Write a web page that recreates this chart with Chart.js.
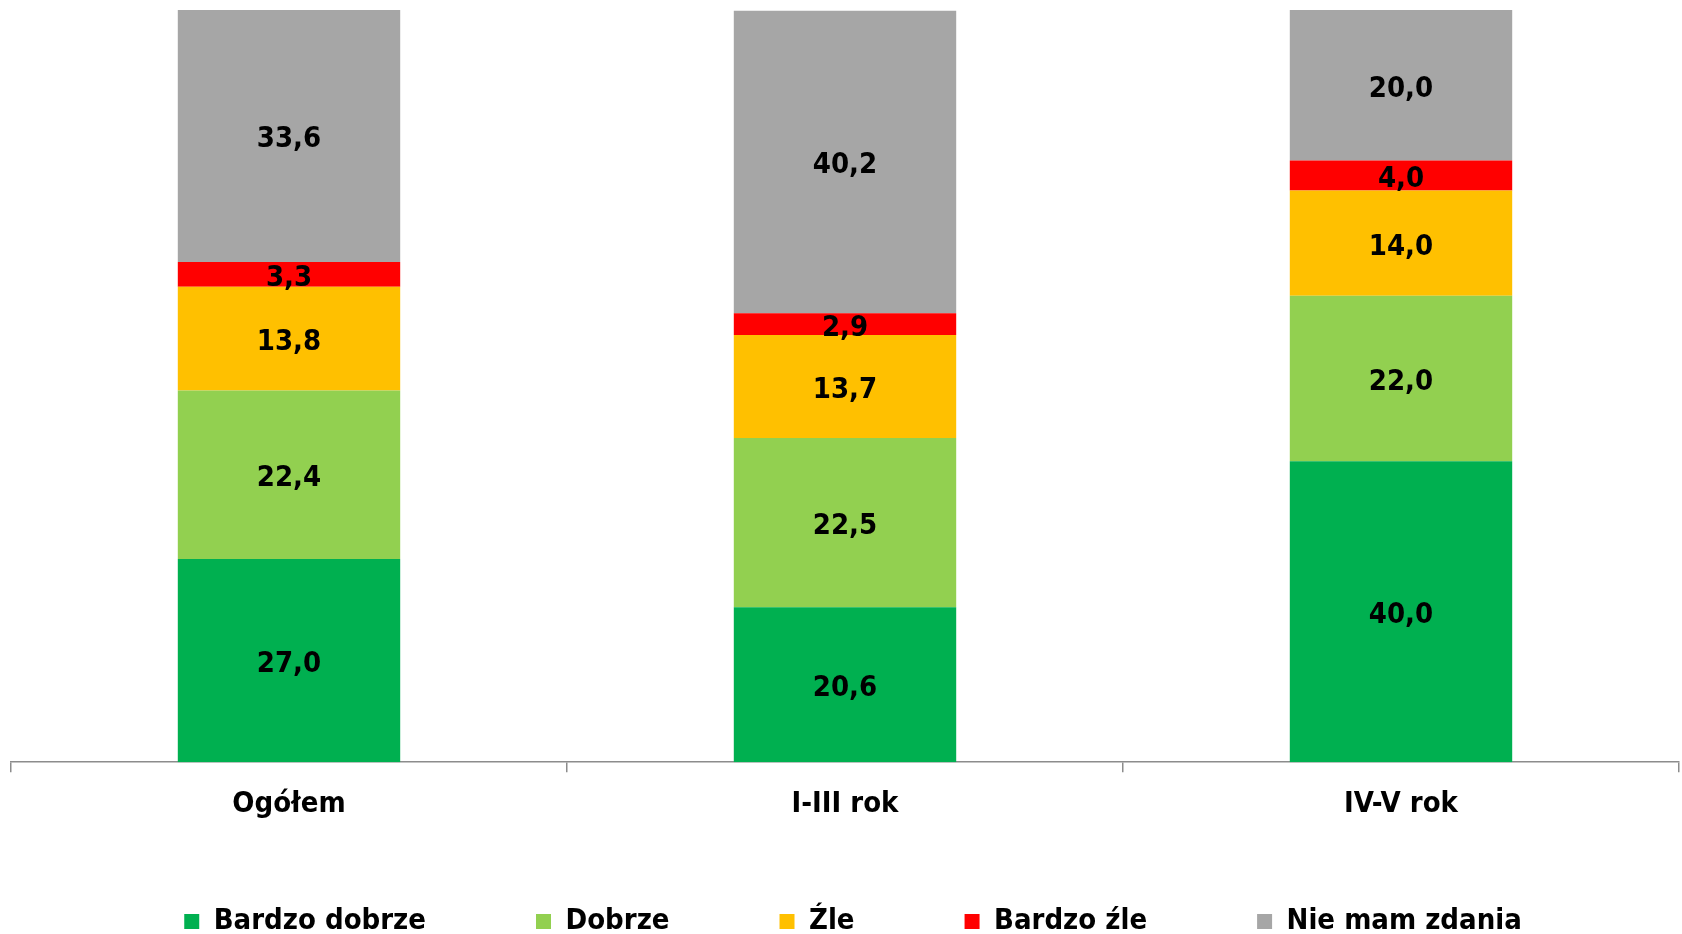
<!DOCTYPE html>
<html>
<head>
<meta charset="utf-8">
<script src="https://cdn.jsdelivr.net/npm/chart.js@4/dist/chart.umd.min.js"></script>
<style>
  body { margin: 0; background: #fff; }
  #wrap { width: 1682px; height: 934px; }
</style>
</head>
<body>
<div id="wrap"><canvas id="chart" width="1682" height="934"></canvas></div>
<script>
// --- Data ---
const categories = ['Ogółem', 'I-III rok', 'IV-V rok'];
const seriesNames = ['Bardzo dobrze', 'Dobrze', 'Źle', 'Bardzo źle', 'Nie mam zdania'];
const bardzoDobrze = [27.0, 20.6, 40.0];
const dobrze = [22.4, 22.5, 22.0];
const zle = [13.8, 13.7, 14.0];
const bardzoZle = [3.3, 2.9, 4.0];
const nieMamZdania = [33.6, 40.2, 20.0];
const colors = ['#00B050', '#92D050', '#FFC000', '#FF0000', '#A6A6A6'];

const FONT = "'DejaVu Sans Condensed', 'DejaVu Sans', sans-serif";
const FONT_SIZE = 29;
const seriesValues = [bardzoDobrze, dobrze, zle, bardzoZle, nieMamZdania];

// draws the value in the middle of each segment
const segmentLabels = {
    id: 'segmentLabels',
    afterDatasetsDraw(chart) {
        const ctx = chart.ctx;
        ctx.save();
        ctx.font = 'bold ' + FONT_SIZE + 'px ' + FONT;
        ctx.fillStyle = '#000';
        ctx.textAlign = 'center';
        ctx.textBaseline = 'middle';
        chart.data.datasets.forEach((ds, i) => {
            chart.getDatasetMeta(i).data.forEach((bar, j) => {
                const c = bar.getCenterPoint();
                ctx.fillText(ds.data[j].toFixed(1).replace('.', ','), c.x, c.y + 4);
            });
        });
        ctx.restore();
    }
};

// legend: wide horizontal gaps (padding) but a short layout box;
// after layout the top is raised so the items land near the bottom edge
const legendBox = {
    id: 'legendBox',
    beforeInit(chart) {
        const fit = chart.legend.fit;
        chart.legend.fit = function () {
            fit.call(this);
            this.height = 97;
        };
    },
    afterLayout(chart) {
        chart.legend.top -= 40;
        chart.legend.left += 8;
        chart.legend.right += 8;
    }
};

const ctx = document.getElementById('chart').getContext('2d');
new Chart(ctx, {
    type: 'bar',
    data: {
        labels: categories,
        datasets: seriesNames.map((name, i) => ({
            label: name,
            data: seriesValues[i],
            backgroundColor: colors[i],
            borderWidth: 0,
            categoryPercentage: 1,
            barPercentage: 0.4
        }))
    },
    options: {
        responsive: false,
        animation: false,
        devicePixelRatio: 1,
        layout: { padding: { top: 10, left: 11, right: 3, bottom: 0 } },
        scales: {
            x: {
                stacked: true,
                border: { display: true, color: '#8c8c8c', width: 1.5 },
                grid: {
                    offset: true,
                    drawOnChartArea: false,
                    drawTicks: true,
                    tickLength: 10,
                    color: '#8c8c8c',
                    lineWidth: 1.5
                },
                ticks: {
                    color: '#000',
                    padding: 15,
                    font: { family: FONT, size: FONT_SIZE, weight: 'bold' }
                }
            },
            y: {
                stacked: true,
                display: false,
                min: 0,
                max: 100
            }
        },
        plugins: {
            legend: {
                position: 'bottom',
                labels: {
                    color: '#000',
                    boxWidth: 15,
                    boxHeight: 15,
                    padding: 110,
                    font: { family: FONT, size: FONT_SIZE, weight: 'bold' }
                }
            },
            tooltip: { enabled: false }
        }
    },
    plugins: [segmentLabels, legendBox]
});
</script>
</body>
</html>
